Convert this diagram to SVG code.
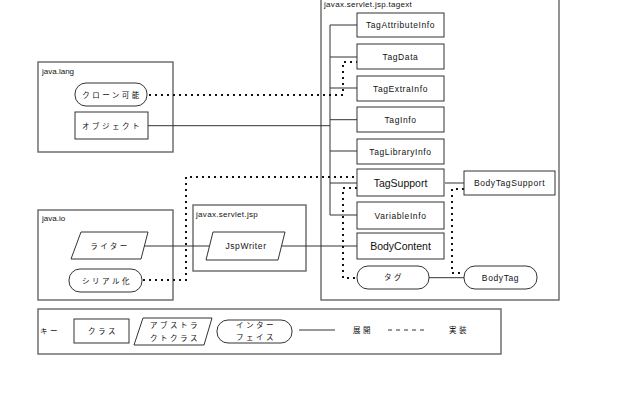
<svg xmlns="http://www.w3.org/2000/svg" width="619" height="419" viewBox="0 0 619 419">
<style>
text{font-family:"Liberation Sans","Noto Sans CJK JP",sans-serif;fill:#111;}
.pkg{fill:none;stroke:#666;stroke-width:1.4;}
.nd{fill:#fff;stroke:#333;stroke-width:1;}
.lbl{font-size:8px;}
.t{font-size:8.5px;text-anchor:middle;dominant-baseline:central;letter-spacing:0.6px;}
.tb{font-size:10.5px;text-anchor:middle;dominant-baseline:central;}
.jp{font-size:7.5px;text-anchor:middle;dominant-baseline:central;letter-spacing:2.5px;}
.sol{fill:none;stroke:#333;stroke-width:1;}
.dot{fill:none;stroke:#111;stroke-width:2;stroke-dasharray:2 4;}
</style>
<rect width="619" height="419" fill="#fff"/>
<g id="pkg-java-lang"><rect class="pkg" x="38" y="62" width="135" height="90"/><text class="lbl" x="42" y="74">java.lang</text></g>
<g id="pkg-java-io"><rect class="pkg" x="38" y="210" width="135" height="90"/><text class="lbl" x="42" y="221">java.io</text></g>
<g id="pkg-jsp"><rect class="pkg" x="193" y="205" width="113" height="66" stroke="#888"/><text class="lbl" x="196" y="217" letter-spacing="0.3">javax.servlet.jsp</text></g>
<g id="pkg-tagext"><rect class="pkg" x="321" y="-2" width="238" height="302"/><text class="lbl" x="324" y="7" letter-spacing="0.3">javax.servlet.jsp.tagext</text></g>

<g id="connectors">
<path class="sol" d="M148,125.7H330M330,25V215M330,25H357M330,57H357M330,88H357M330,119.7H357M330,151H357M330,183H357M330,215H357"/>
<path class="sol" d="M445,183H464"/>
<path class="sol" d="M429,277.7H464" stroke="#777" stroke-width="1.5"/>
<path class="sol" d="M142,246H209M281,246H357"/>
<path class="dot" d="M149,95H343V62H357"/>
<path class="dot" d="M143,280H186V177H357"/>
<path class="dot" d="M357,188H343V278H357"/>
<path class="dot" d="M464,189H452V273H464"/>
</g>

<g id="n-clone"><rect class="nd" x="75" y="83" width="72" height="23" rx="11"/><text class="jp" x="112" y="95">クローン可能</text></g>
<g id="n-object"><rect class="nd" x="75" y="112" width="73" height="27"/><text class="jp" x="112" y="126">オブジェクト</text></g>
<g id="n-writer"><polygon class="nd" points="81,232 148,232 141,259 71,259"/><text class="jp" x="110" y="246">ライター</text></g>
<g id="n-serial"><rect class="nd" x="69" y="269" width="73" height="23" rx="11"/><text class="jp" x="107" y="281">シリアル化</text></g>
<g id="n-jspwriter"><polygon class="nd" points="213,232 285,232 278,260 206,260"/><text class="t" x="246" y="246">JspWriter</text></g>

<g id="n-tagattr"><rect class="nd" x="357" y="13" width="87" height="24"/><text class="t" x="400.5" y="25" letter-spacing="0.3">TagAttributeInfo</text></g>
<g id="n-tagdata"><rect class="nd" x="357" y="44" width="87" height="25"/><text class="t" x="400.5" y="56.5">TagData</text></g>
<g id="n-tagextra"><rect class="nd" x="357" y="76" width="87" height="25"/><text class="t" x="400.5" y="88.5">TagExtraInfo</text></g>
<g id="n-taginfo"><rect class="nd" x="357" y="107" width="87" height="25"/><text class="t" x="400.5" y="119.5">TagInfo</text></g>
<g id="n-taglib"><rect class="nd" x="357" y="139" width="87" height="25"/><text class="t" x="400.5" y="151.5">TagLibraryInfo</text></g>
<g id="n-tagsupport"><rect class="nd" x="357" y="169" width="87" height="27"/><text class="tb" x="400.5" y="182.5">TagSupport</text></g>
<g id="n-varinfo"><rect class="nd" x="357" y="202" width="87" height="27"/><text class="t" x="400.5" y="215.5">VariableInfo</text></g>
<g id="n-bodycontent"><rect class="nd" x="357" y="233" width="87" height="26"/><text class="tb" x="400.5" y="246">BodyContent</text></g>
<g id="n-tag"><rect class="nd" x="357" y="266" width="72" height="23" rx="11"/><text class="jp" x="394" y="277.5">タグ</text></g>
<g id="n-bodytagsupport"><rect class="nd" x="464" y="171" width="91" height="24"/><text class="t" x="509.5" y="183">BodyTagSupport</text></g>
<g id="n-bodytag"><rect class="nd" x="464" y="266" width="73" height="23" rx="11"/><text class="t" x="500.5" y="277.5">BodyTag</text></g>

<g id="key">
<rect class="pkg" x="38" y="309" width="463" height="45" stroke="#555" stroke-width="1"/>
<text class="jp" x="50" y="331" text-anchor="middle">キー</text>
<rect class="nd" x="74" y="319" width="55" height="24"/><text class="jp" x="103" y="331">クラス</text>
<polygon class="nd" points="143,318 212,318 204,345 134,345"/><text class="jp" x="175" y="325">アブストラ</text><text class="jp" x="175" y="338">クトクラス</text>
<rect class="nd" x="217" y="320" width="75" height="23" rx="11"/><text class="jp" x="256" y="325.5">インター</text><text class="jp" x="256" y="337">フェイス</text>
<path class="sol" d="M299,330H335"/>
<text class="jp" x="363" y="330" letter-spacing="1">展開</text>
<path class="sol" d="M388,330H428" stroke-dasharray="4 4" stroke-width="1.3"/>
<text class="jp" x="459" y="330" letter-spacing="1">実装</text>
</g>
</svg>
